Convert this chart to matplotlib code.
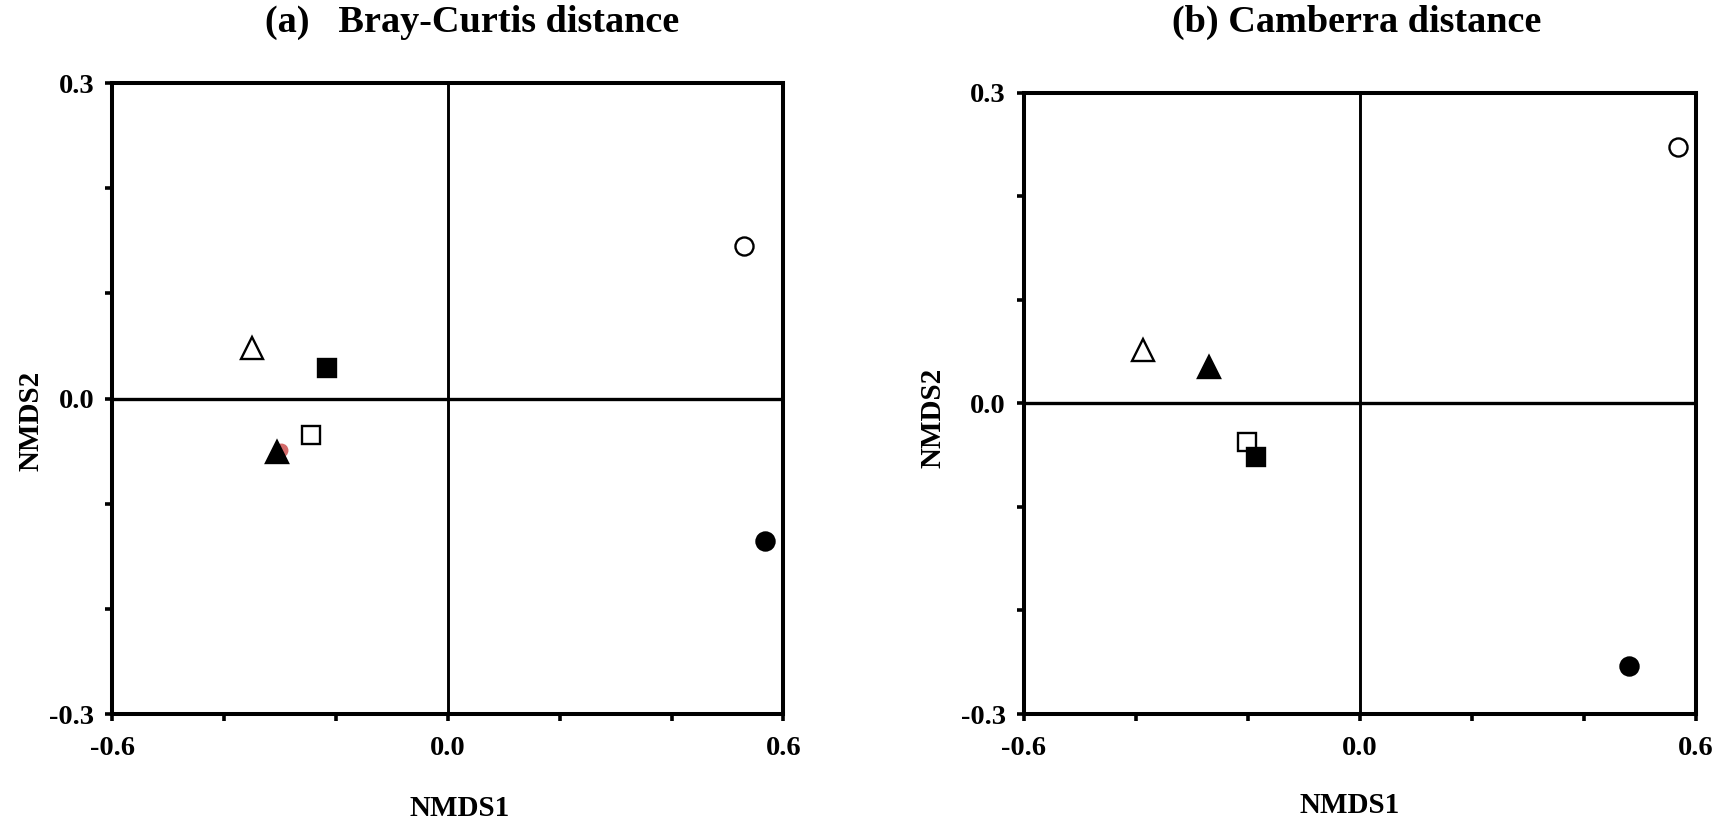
import numpy as np
import matplotlib
matplotlib.use('Agg')
import matplotlib.pyplot as plt

plt.rcParams['font.family'] = ['Liberation Serif', 'DejaVu Serif']
plt.rcParams['font.weight'] = 'bold'

# NMDS scores per sample, one entry per marker style
samples = ['open_circle', 'filled_circle', 'open_triangle',
           'filled_triangle', 'open_square', 'filled_square']

bray_nmds1 = [0.529, 0.567, -0.350, -0.306, -0.245, -0.217]
bray_nmds2 = [0.145, -0.135, 0.048, -0.051, -0.035, 0.029]

camberra_nmds1 = [0.568, 0.481, -0.388, -0.270, -0.201, -0.185]
camberra_nmds2 = [0.247, -0.254, 0.051, 0.035, -0.037, -0.052]

# red point mostly hidden under the filled triangle in the Bray-Curtis plot
bray_hidden_x = [-0.299]
bray_hidden_y = [-0.049]

titles = ['(a)   Bray-Curtis distance', '(b) Camberra distance']
x_ticks = [-0.6, -0.4, -0.2, 0.0, 0.2, 0.4, 0.6]
y_ticks = [-0.3, -0.2, -0.1, 0.0, 0.1, 0.2, 0.3]
x_labelled = [-0.6, 0.0, 0.6]
y_labelled = [-0.3, 0.0, 0.3]

styles = {
    'open_circle': dict(marker='o', ms=13, mfc='white'),
    'filled_circle': dict(marker='o', ms=13, mfc='black'),
    'open_triangle': dict(marker='^', ms=15.5, mfc='white'),
    'filled_triangle': dict(marker='^', ms=15.5, mfc='black'),
    'open_square': dict(marker='s', ms=13, mfc='white'),
    'filled_square': dict(marker='s', ms=13, mfc='black'),
}


def draw_panel(ax, xs, ys):
    ax.set_xlim(-0.6, 0.6)
    ax.set_ylim(-0.3, 0.3)
    ax.axhline(0, color='black', lw=2.4, zorder=1)
    ax.axvline(0, color='black', lw=2.1, zorder=1)
    for name, x, y in zip(samples, xs, ys):
        ax.plot(x, y, linestyle='none', mec='black', mew=1.7,
                zorder=3, **styles[name])

    ax.set_xticks(x_ticks)
    ax.set_xticklabels(['%.1f' % v if v in x_labelled else '' for v in x_ticks],
                       fontsize=20.5, fontweight='bold')
    ax.set_yticks(y_ticks)
    ax.set_yticklabels(['%.1f' % v if v in y_labelled else '' for v in y_ticks],
                       fontsize=20.5, fontweight='bold')
    ax.tick_params(direction='out', length=5, width=2.6, color='black')
    ax.tick_params(axis='x', pad=11)
    ax.tick_params(axis='y', pad=8)

    for s in ax.spines.values():
        s.set_linewidth(2.9)
        s.set_zorder(4)

    ax.set_xlabel('NMDS1', fontsize=21, fontweight='bold', va='center')
    ax.set_ylabel('NMDS2', fontsize=21, fontweight='bold', va='center')


fig = plt.figure(figsize=(17.25, 8.23), dpi=100)
ax1 = fig.add_axes([0.0652, 0.1324, 0.389, 0.7667])
ax2 = fig.add_axes([0.5936, 0.1324, 0.3896, 0.7552])

draw_panel(ax1, bray_nmds1, bray_nmds2)
draw_panel(ax2, camberra_nmds1, camberra_nmds2)

ax1.plot(bray_hidden_x, bray_hidden_y, linestyle='none', marker='o', ms=9,
         mfc='#d46a6a', mec='#d46a6a', zorder=2)

ax1.xaxis.set_label_coords(0.518, -0.149)
ax1.yaxis.set_label_coords(-0.122, 0.464)
ax2.xaxis.set_label_coords(0.485, -0.147)
ax2.yaxis.set_label_coords(-0.135, 0.476)

fig.text(0.2735, 0.973, titles[0], ha='center', va='center',
         fontsize=27.5, fontweight='bold')
fig.text(0.7865, 0.973, titles[1], ha='center', va='center',
         fontsize=27.5, fontweight='bold')

fig.savefig('out.png', dpi=100)
